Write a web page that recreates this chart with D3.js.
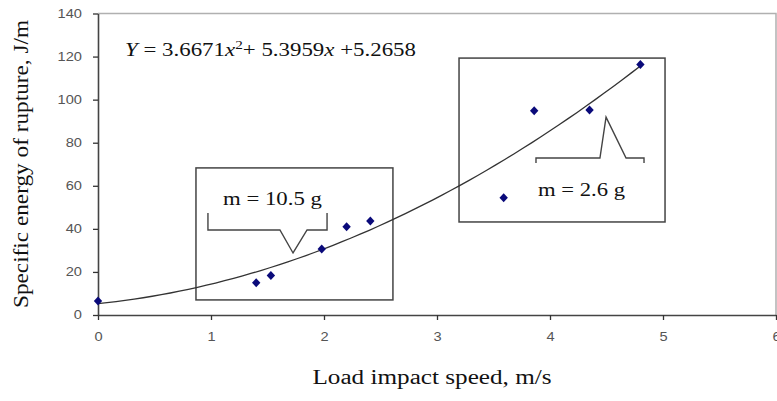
<html lang="en">
<head>
	<title>Specific energy of rupture</title>
	<script src="https://d3js.org/d3.v7.min.js" charset="utf-8"></script>
	<style>
		body { margin: 0; background: #fff; }
	</style>
</head>
<body>
	<script>
	// data
	var speed = [0, 1.4, 1.53, 1.98, 2.2, 2.41, 3.59, 3.86, 4.35, 4.8];
	var energy = [6.5, 15.0, 18.3, 30.6, 41.0, 43.6, 54.4, 94.8, 95.2, 116.3];
	var xTicks = [0, 1, 2, 3, 4, 5, 6];
	var yTicks = [0, 20, 40, 60, 80, 100, 120, 140];
	var fitCoef = [5.2658, 5.3959, 3.6671]; // c0 + c1 x + c2 x^2
	var fitRange = [0, 4.8];

	// annotation boxes and braces, in data units
	var boxes = [
		{x0: 0.867, x1: 2.61, y0: 7.0, y1: 68.3},
		{x0: 3.195, x1: 5.018, y0: 43.2, y1: 119.3}
	];
	var brace1 = [[0.973, 47.4], [0.973, 39.5], [1.61, 39.5], [1.726, 28.8], [1.85, 39.5], [2.027, 39.5], [2.027, 47.4]];
	var brace2 = [[3.876, 70.6], [3.876, 72.9], [4.442, 72.9], [4.496, 91.9], [4.673, 72.9], [4.832, 72.9], [4.832, 70.6]];
	var labels = [
		{x: 1.106, y: 51.1, text: "m = 10.5 g", len: 99},
		{x: 3.894, y: 55.3, text: "m = 2.6 g", len: 87}
	];

	var w = 777, h = 401;
	var padL = 98, padR = 776, padT = 13.5, padB = 315;
	var stretch = 1.22; // the picture's text is wider than it is tall

	var svg = d3.select("body").append("svg")
		.attr("width", w)
		.attr("height", h)
		.style("background", "#fff");

	var x = d3.scaleLinear().domain([0, 6]).range([padL, padR]);
	var y = d3.scaleLinear().domain([0, 140]).range([padB, padT]);

	// plot frame (top and right, light gray)
	svg.append("path")
		.attr("d", "M" + padL + "," + padT + "H" + padR + "V" + padB)
		.attr("fill", "none")
		.attr("stroke", "#b0b0b0")
		.attr("stroke-width", 1.5);

	// axes
	var xAxis = svg.append("g")
		.attr("transform", "translate(0," + padB + ")")
		.call(d3.axisBottom(x).tickValues(xTicks).tickFormat(d3.format("d")).tickSize(5).tickSizeOuter(0).tickPadding(12));
	var yAxis = svg.append("g")
		.attr("transform", "translate(" + padL + ",0)")
		.call(d3.axisLeft(y).tickValues(yTicks).tickFormat(d3.format("d")).tickSize(5).tickSizeOuter(0).tickPadding(11));

	[xAxis, yAxis].forEach(function(a){
		a.select(".domain").attr("stroke", "#444").attr("stroke-width", 1.6);
		a.selectAll(".tick line").attr("stroke", "#333").attr("stroke-width", 1.3);
		a.selectAll(".tick text")
			.attr("fill", "#555")
			.attr("transform", "scale(" + stretch + ",1)")
			.style("font-family", "Arial, 'Liberation Sans', sans-serif")
			.style("font-size", "12px");
	});
	yAxis.selectAll(".tick text").attr("x", -16 / stretch);

	// annotation boxes
	svg.selectAll("rect.box")
		.data(boxes)
		.enter()
		.append("rect")
		.attr("class", "box")
		.attr("x", function(d){ return x(d.x0); })
		.attr("y", function(d){ return y(d.y1); })
		.attr("width", function(d){ return x(d.x1) - x(d.x0); })
		.attr("height", function(d){ return y(d.y0) - y(d.y1); })
		.attr("fill", "none")
		.attr("stroke", "#444")
		.attr("stroke-width", 1.5);

	var line = d3.line()
		.x(function(d){ return x(d[0]); })
		.y(function(d){ return y(d[1]); });

	svg.selectAll("path.brace")
		.data([brace1, brace2])
		.enter()
		.append("path")
		.attr("class", "brace")
		.attr("d", line)
		.attr("fill", "none")
		.attr("stroke", "#444")
		.attr("stroke-width", 1.4);

	// trend line from the printed equation
	var fit = d3.range(0, 61).map(function(i){
		var t = fitRange[0] + (fitRange[1] - fitRange[0]) * i / 60;
		return [t, fitCoef[0] + fitCoef[1] * t + fitCoef[2] * t * t];
	});
	svg.append("path")
		.attr("d", line(fit))
		.attr("fill", "none")
		.attr("stroke", "#333")
		.attr("stroke-width", 1.3);

	// data points (diamonds)
	svg.selectAll("path.pt")
		.data(d3.zip(speed, energy))
		.enter()
		.append("path")
		.attr("class", "pt")
		.attr("transform", function(d){ return "translate(" + x(d[0]) + "," + y(d[1]) + ")"; })
		.attr("d", "M0,-4.5L4.2,0L0,4.5L-4.2,0Z")
		.attr("fill", "#0a0a7a");

	// texts
	var serif = "'Liberation Serif', 'Times New Roman', serif";

	var eq = svg.append("text")
		.attr("x", x(0.239))
		.attr("y", y(120.3))
		.attr("textLength", 291)
		.attr("lengthAdjust", "spacingAndGlyphs")
		.style("font-family", serif)
		.style("font-size", "18px")
		.attr("fill", "#111");
	eq.append("tspan").style("font-style", "italic").text("Y");
	eq.append("tspan").text(" = 3.6671");
	eq.append("tspan").style("font-style", "italic").text("x");
	eq.append("tspan").attr("dy", -7).style("font-size", "12px").text("2");
	eq.append("tspan").attr("dy", 7).text("+ 5.3959");
	eq.append("tspan").style("font-style", "italic").text("x");
	eq.append("tspan").text(" +5.2658");

	svg.selectAll("text.mlab")
		.data(labels)
		.enter()
		.append("text")
		.attr("class", "mlab")
		.attr("x", function(d){ return x(d.x); })
		.attr("y", function(d){ return y(d.y); })
		.attr("textLength", function(d){ return d.len; })
		.attr("lengthAdjust", "spacingAndGlyphs")
		.style("font-family", serif)
		.style("font-size", "18px")
		.attr("fill", "#111")
		.text(function(d){ return d.text; });

	svg.append("text")
		.attr("x", 432)
		.attr("y", 384)
		.attr("text-anchor", "middle")
		.attr("textLength", 239)
		.attr("lengthAdjust", "spacingAndGlyphs")
		.style("font-family", serif)
		.style("font-size", "20px")
		.attr("fill", "#111")
		.text("Load impact speed, m/s");

	svg.append("text")
		.attr("transform", "translate(28,164) rotate(-90)")
		.attr("text-anchor", "middle")
		.attr("textLength", 288)
		.attr("lengthAdjust", "spacingAndGlyphs")
		.style("font-family", serif)
		.style("font-size", "21px")
		.attr("fill", "#111")
		.text("Specific energy of rupture, J/m");
	</script>
</body>
</html>
